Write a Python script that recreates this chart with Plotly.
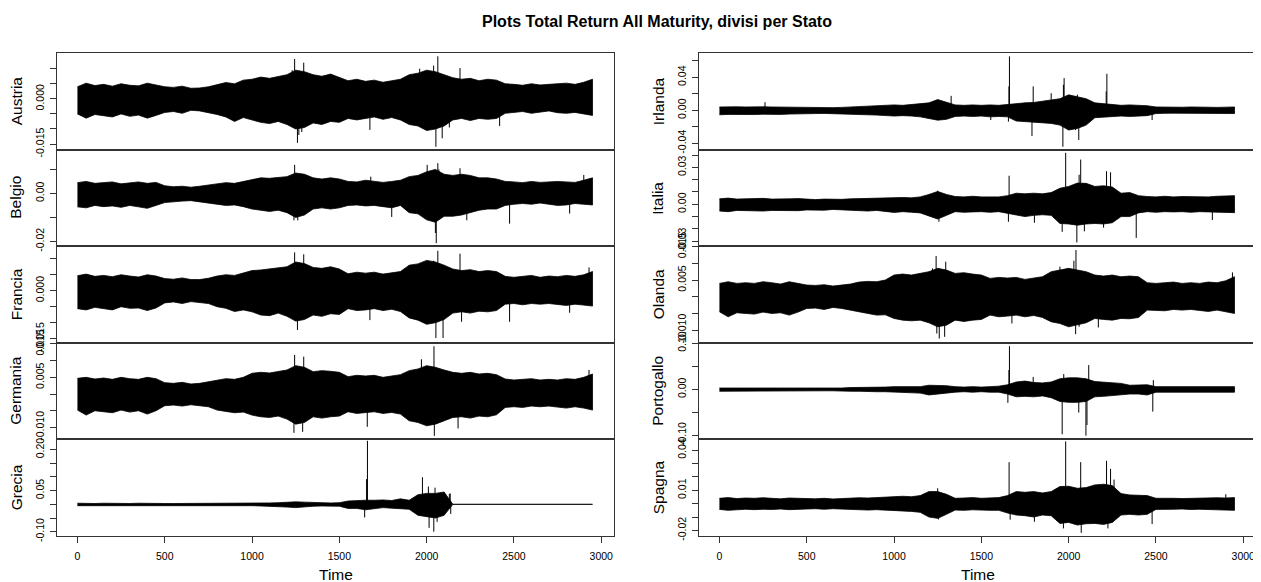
import plotly.graph_objects as go

# ---------------- data ----------------
TIME_GRID = list(range(0, 3000, 50))          # 0 .. 2950
TIME_TICKS = [0, 500, 1000, 1500, 2000, 2500, 3000]

# envelopes in units of 0.001 (Grecia, Portogallo in units of 0.01)
AUSTRIA_UP = [4.0,5.2,4.4,4.8,4.2,5.0,4.5,4.3,5.2,4.6, 4.0,3.8,4.2,3.5,3.6,4.0, 4.6,5.4,5.0,6.2,
              6.5,7.2,6.8,7.5,8.0, 9.5,9.0, 8.0,7.5,8.2,7.0, 6.0,6.5,5.8,6.2,5.5,6.0,6.5,
              8.0,8.5,9.5,9.0,8.0, 7.0,6.5,6.8,6.0,6.5,6.2, 5.0,4.8,4.5,5.0,4.6,4.8,5.0,5.2,4.8,5.5,6.5]
AUSTRIA_LO = [-5.0,-6.4,-5.2,-5.6,-6.0,-5.0,-5.8,-5.4,-6.4,-5.5, -4.5,-4.2,-4.8,-3.8,-4.0,-4.6, -5.2,-6.0,-7.5,-6.2,
              -7.0,-7.8,-8.2,-7.5,-8.5, -10.0,-9.5, -8.0,-8.5,-7.5,-7.8, -6.5,-7.0,-6.5,-6.0,-6.8,-6.2,-7.0,
              -8.5,-9.0,-10.5,-10.0,-9.0, -7.0,-6.5,-7.2,-6.5,-6.8,-6.5, -4.8,-4.5,-4.2,-4.8,-4.5,-4.0,-4.6,-4.8,-4.5,-5.0,-5.5]
AUSTRIA_SPIKES = [(1230,9.5),(1244,13.2),(1260,-14.6),(1268,-12.0),(1285,-11.0),(1296,12.0),(1675,-10.3),
                  (1960,10.0),(2040,11.0),(2053,-15.9),(2064,14.1),(2089,-13.1),(2130,-9.5),(2191,10.2),(2418,-9.0)]

BELGIO_UP = [4.5,5.0,4.2,4.6,4.8,4.0,4.5,4.8,4.2,4.6, 3.2,2.8,3.0,2.6,3.0,3.4, 4.0,4.5,4.2,5.0,
             6.0,6.5,6.3,6.8,7.0, 8.5,8.0, 6.5,6.0,6.5,6.0, 5.0,4.8,5.5,5.0,4.6,5.0,5.5,
             7.0,7.5,9.0,10.0,8.0, 7.5,8.0,7.5,6.5,6.5,6.0, 5.0,4.8,4.5,5.0,4.6,4.8,5.0,4.8,4.6,5.5,6.5]
BELGIO_LO = [-5.6,-6.0,-5.0,-5.5,-5.2,-5.8,-5.0,-5.6,-6.2,-5.0, -3.8,-3.5,-3.2,-3.0,-3.5,-3.8, -4.5,-5.0,-4.8,-5.5,
             -6.5,-7.0,-7.5,-7.0,-8.0, -10.0,-9.0, -6.5,-6.0,-6.5,-6.0, -5.0,-4.8,-5.2,-5.0,-5.5,-6.0,-5.0,
             -8.0,-8.5,-11.0,-12.0,-9.5, -9.5,-9.0,-8.0,-7.0,-6.5,-6.5, -5.0,-4.5,-4.2,-4.5,-4.0,-4.5,-5.0,-4.8,-4.2,-4.5,-4.8]
BELGIO_SPIKES = [(1240,-11.2),(1244,11.9),(1262,-11.2),(1680,7.0),(1800,-9.8),(2003,11.9),(2050,-16.5),
                 (2055,-20.7),(2064,12.6),(2070,10.0),(2191,10.5),(2230,-11.2),(2475,-12.6),(2819,-8.4),(2900,7.7)]

FRANCIA_UP = [4.7,5.2,4.5,4.8,4.4,5.0,4.6,4.3,5.0,4.6, 3.8,3.6,4.0,3.5,3.5,3.9, 4.6,5.0,4.8,5.5,
              6.3,6.5,6.8,7.0,7.5, 9.0,8.5, 7.3,7.0,7.5,6.8, 5.3,5.8,5.5,5.8,5.2,5.6,6.0,
              8.0,8.4,9.5,9.0,8.0, 6.8,6.3,6.6,6.0,6.3,6.0, 4.5,4.2,4.4,4.8,4.2,4.6,4.4,4.8,4.5,5.0,6.0]
FRANCIA_LO = [-5.6,-6.0,-5.2,-5.6,-6.0,-5.0,-5.5,-5.4,-6.2,-5.4, -3.8,-3.5,-4.0,-3.4,-3.6,-4.0, -5.0,-5.5,-6.5,-6.0,
              -6.6,-7.6,-7.8,-7.0,-8.0, -9.5,-9.0, -7.6,-8.0,-7.2,-7.4, -5.6,-6.2,-6.0,-5.6,-6.2,-5.8,-6.5,
              -8.5,-9.2,-10.5,-10.0,-9.0, -7.0,-6.6,-7.0,-6.4,-6.6,-6.2, -4.2,-4.0,-4.4,-4.0,-4.2,-4.0,-4.4,-4.6,-4.2,-4.5,-4.8]
FRANCIA_SPIKES = [(1244,12.0),(1260,-12.3),(1285,-9.2),(1296,11.4),(1675,-9.2),(2040,9.4),(2053,-14.8),
                  (2064,12.5),(2094,-14.8),(2191,11.6),(2200,-9.7),(2475,-9.7),(2819,-6.9),(2930,7.3)]

GERMANIA_UP = [4.7,5.0,4.5,4.8,4.4,5.0,4.6,4.4,5.0,4.6, 3.4,3.2,3.5,3.0,3.2,3.6, 4.2,4.6,4.4,5.0,
               6.2,6.5,6.3,6.8,7.2, 8.5,8.0, 6.7,7.0,6.8,6.5, 5.2,5.6,5.4,5.6,5.0,5.4,5.8,
               7.0,7.5,8.5,8.0,7.2, 6.5,6.2,6.5,6.0,6.2,5.8, 4.5,4.2,4.4,4.6,4.2,4.4,4.2,4.6,4.4,5.0,6.0]
GERMANIA_LO = [-4.8,-6.3,-5.0,-5.2,-5.6,-4.8,-5.4,-5.0,-6.0,-5.0, -3.5,-3.3,-3.6,-3.2,-3.4,-3.8, -4.8,-5.2,-5.6,-5.4,
               -6.3,-6.8,-7.0,-6.6,-7.5, -9.0,-8.5, -6.8,-7.2,-6.8,-6.6, -5.3,-5.8,-5.6,-5.3,-5.8,-5.5,-6.0,
               -8.0,-8.5,-9.5,-9.0,-8.0, -7.0,-6.8,-7.2,-6.6,-6.8,-6.2, -4.0,-3.8,-4.0,-3.6,-3.8,-3.6,-4.0,-4.2,-3.8,-4.2,-4.8]
GERMANIA_SPIKES = [(1240,-11.6),(1244,11.7),(1290,-11.3),(1296,11.2),(1660,-9.8),(1970,10.4),(2030,-8.8),
                   (2042,14.3),(2044,-12.5),(2180,-10.3),(2930,7.2)]

GRECIA_UP = [0.4,0.3,0.3,0.4,0.3,0.3,0.3,0.4,0.3,0.3,0.3,0.3,0.3,0.3,0.3,0.4,0.4,0.4,0.4,0.5,0.5,0.5,0.5,
             0.6,0.8,0.9,0.8,0.6,0.6,0.5,0.6, 1.2,1.4,1.5, 1.5,1.6,1.4,2.0,1.5, 3.5,4.0,4.0,4.5,
             0,0,0,0,0,0,0,0,0,0,0,0,0,0,0,0,0]
GRECIA_LO = [-0.5,-0.3,-0.3,-0.4,-0.3,-0.4,-0.3,-0.4,-0.3,-0.4,-0.3,-0.3,-0.3,-0.3,-0.3,-0.4,-0.4,-0.4,-0.5,-0.5,-0.5,-0.6,-0.6,
             -0.8,-1.0,-1.2,-0.9,-0.7,-0.6,-0.6,-0.7, -1.5,-1.5,-2.0, -1.5,-1.2,-1.4,-1.5,-1.8, -4.0,-4.5,-5.0,-4.0,
             0,0,0,0,0,0,0,0,0,0,0,0,0,0,0,0,0]
GRECIA_SPIKES = [(1645,-4.8),(1656,9.2),(1661,23.2),(1976,9.9),(2010,6.5),(2014,-8.6),(2041,-10.0),
                 (2048,6.1),(2060,-6.4),(2130,3.8),(2135,4.0),(2138,-3.5)]

IRLANDA_UP = [4.0,4.5,4.2,4.0,4.5,4.2,4.0,3.8,4.2,4.0,3.5,3.8,3.5,3.2,3.5,4.0,4.2,4.5,5.0,5.2,
              6.5,6.0,7.0,7.5,9.0, 13.0,10.0, 6.5,6.0,6.5,6.0,6.5,6.0,7.0, 8.5,9.0,9.5, 11.0,12.6,14.0,
              18.7,16.0,14.0, 9.0,8.0, 6.5,6.0,6.5,6.0,5.5, 4.0,3.7,3.5,3.7,4.0,3.5,3.7,3.5,3.7,4.0]
IRLANDA_LO = [-5.5,-5.0,-4.8,-5.0,-5.2,-4.8,-4.5,-5.0,-4.6,-4.2,-4.0,-4.0,-3.8,-3.6,-4.0,-4.5,-5.0,-5.5,-5.8,-6.0,
              -7.0,-6.5,-7.0,-8.0,-10.0, -12.0,-11.0, -7.5,-7.0,-7.5,-7.0,-8.0,-7.5,-8.0, -13.0,-13.8,-15.0,
              -15.0,-15.9,-18.0, -24.0,-22.0,-18.0, -9.0,-8.0, -7.7,-7.0,-7.5,-7.0,-6.5,
              -4.0,-3.7,-3.5,-3.7,-3.5,-3.7,-3.5,-3.7,-3.8,-4.0]
IRLANDA_SPIKES = [(261,9.8),(1327,17.5),(1554,-11.8),(1655,-13.8),(1658,29.0),(1661,65.4),(1790,-31.3),
                  (1797,29.0),(1900,20.7),(1967,-44.3),(1970,31.0),(1974,39.0),(2040,-24.0),(2050,19.0),
                  (2058,-36.0),(2215,23.0),(2219,44.3),(2478,-11.8)]

ITALIA_UP = [4.4,5.0,4.2,4.6,4.4,4.8,4.2,4.0,4.4,4.6,4.0,3.8,4.2,3.8,4.0,4.4,4.6,4.4,4.8,5.0,
             5.0,5.5,5.2,6.0,8.0, 10.4,8.0, 6.3,6.0,6.5,6.0,6.3,6.0,7.0, 9.0,8.5,9.0,8.5,9.5,
             13.0,14.5, 17.2,17.0, 14.5,15.0,14.0, 9.0,9.5, 7.0,6.3,6.0,6.5,6.0,6.3,6.0,6.3,6.0,6.5,6.8,7.0]
ITALIA_LO = [-5.5,-6.0,-5.0,-5.5,-5.2,-5.5,-5.0,-5.4,-5.0,-5.2,-4.6,-4.4,-4.8,-4.2,-4.5,-5.0,-5.2,-5.5,-5.0,-5.6,
             -6.6,-6.0,-6.5,-7.0,-9.5, -12.0,-9.0, -6.0,-6.5,-6.2,-6.0,-6.5,-6.0,-7.5, -8.7,-10.0,-9.0,-8.5,-9.0,
             -15.6,-16.0, -17.0,-16.0, -15.6,-16.0,-15.0, -10.0,-10.0,
             -7.0,-6.0,-6.5,-6.0,-6.2,-6.0,-6.5,-6.0,-6.3,-6.0,-6.5,-6.8]
ITALIA_SPIKES = [(1250,11.0),(1257,-14.2),(1655,-14.2),(1659,23.2),(1804,-15.0),(1963,-22.4),(1983,41.8),
                 (2047,-31.0),(2060,24.0),(2069,36.3),(2090,-22.0),(2200,-19.0),(2217,26.8),(2240,26.0),
                 (2387,-27.3),(2823,-12.8)]

OLANDA_UP = [4.0,4.5,4.0,4.2,4.0,4.5,4.2,3.8,4.5,4.0, 3.5,3.4,3.6,3.2,3.4,3.8, 4.4,4.6,4.5,5.0,
             6.5,6.8,6.5,7.0,7.5, 8.5,8.0, 7.0,7.2,6.8,6.5, 5.5,5.8,5.6,5.8,5.2,5.6,6.0,
             7.5,8.0,8.5,8.0,7.5, 6.5,6.2,6.5,6.0,6.2,6.0, 4.2,4.0,4.2,4.4,4.0,4.2,4.0,4.4,4.2,4.8,6.0]
OLANDA_LO = [-4.5,-6.0,-4.8,-5.0,-5.2,-4.6,-5.0,-4.8,-5.5,-4.6, -3.5,-3.4,-3.8,-3.2,-3.5,-3.8, -4.5,-5.0,-5.5,-5.4,
             -6.5,-7.0,-7.2,-7.0,-7.8, -9.0,-8.5, -7.0,-7.4,-7.0,-6.8, -5.5,-6.0,-5.8,-5.5,-6.0,-5.6,-6.2,
             -7.5,-8.0,-9.0,-8.5,-7.8, -6.5,-6.8,-7.0,-6.5,-6.6,-6.2, -4.0,-4.0,-4.2,-3.8,-4.0,-3.8,-4.2,-4.4,-4.0,-4.5,-5.0]
OLANDA_SPIKES = [(1220,8.5),(1241,12.2),(1245,-11.0),(1259,-12.5),(1290,-12.0),(1296,10.5),(1675,-8.0),
                 (1950,9.0),(2030,10.8),(2040,-11.2),(2042,14.0),(2060,-9.0),(2170,-9.2),(2938,7.3)]

PORTOGALLO_UP = [0.3,0.3,0.3,0.2,0.3,0.3,0.2,0.3,0.3,0.2,0.3,0.3,0.3,0.3,0.3,0.4,0.4,0.4,0.4,0.5,
                 0.6,0.6,0.5,0.6,0.9, 0.9,0.8, 0.6,0.5,0.6,0.5,0.6,0.7, 1.0, 1.6,1.8,1.5,1.4,1.6,
                 2.3,2.5,2.5,2.3, 1.7,1.6,1.5,1.3, 0.9,0.9,1.0, 0.6,0.6,0.5,0.6,0.5,0.6,0.5,0.6,0.6,0.6]
PORTOGALLO_LO = [-0.4,-0.3,-0.3,-0.3,-0.3,-0.3,-0.3,-0.3,-0.3,-0.3,-0.3,-0.3,-0.3,-0.3,-0.3,-0.4,-0.4,-0.4,-0.5,-0.5,
                 -0.6,-0.6,-0.7,-0.8,-1.2, -1.0,-0.8, -0.6,-0.5,-0.6,-0.5,-0.6,-0.6, -1.0, -1.6,-1.5,-1.6,-1.4,-1.8,
                 -2.6,-2.8,-2.8,-2.6, -1.6,-1.5,-1.4,-1.2, -1.0,-1.0,-1.2, -0.6,-0.6,-0.5,-0.6,-0.5,-0.6,-0.5,-0.6,-0.6,-0.6]
PORTOGALLO_SPIKES = [(1652,-2.9),(1658,4.2),(1661,9.35),(1797,2.7),(1963,-9.7),(1972,3.3),(2058,-5.0),
                     (2099,-10.0),(2105,-7.7),(2115,5.25),(2482,-4.8),(2485,2.0)]

SPAGNA_UP = [4.0,4.5,3.8,4.2,4.0,4.4,4.0,3.6,4.2,4.0,3.8,3.6,4.0,3.5,3.8,4.2,4.4,4.2,4.5,5.0,
             5.3,5.5,5.2,6.0,9.0, 9.0,7.0, 4.0,4.2,4.5,4.0,4.2,4.5,6.0, 9.0,8.5,9.0,8.0,9.0,
             12.8,13.0, 11.5,12.0, 14.0,14.5,13.5, 7.5,6.5,6.5,6.0, 4.0,4.2,4.0,3.8,4.0,4.2,4.0,4.4,4.2,4.5]
SPAGNA_LO = [-4.3,-5.0,-4.5,-4.2,-4.5,-4.2,-4.4,-4.0,-4.5,-4.2,-4.0,-3.8,-4.2,-3.8,-4.0,-4.4,-4.5,-4.8,-4.5,-5.0,
             -5.3,-5.5,-5.8,-6.5,-10.0, -11.0,-8.0, -4.8,-5.0,-4.6,-4.8,-5.0,-5.0,-7.0, -8.5,-9.0,-10.0,-8.5,-9.0,
             -14.8,-14.0, -16.0,-15.0, -14.8,-15.5,-14.0, -8.5,-8.0,-8.5,-8.0,
             -4.3,-4.5,-4.2,-4.0,-4.4,-4.2,-4.5,-4.4,-4.8,-5.0]
SPAGNA_SPIKES = [(1250,11.5),(1255,-11.8),(1659,31.0),(1665,-12.0),(1804,-13.5),(1970,-18.5),(1983,46.5),
                 (2069,31.0),(2072,-21.8),(2217,32.0),(2225,-18.5),(2240,26.0),(2260,18.0),(2478,-15.3),(2900,7.0)]

# y axis: tick values, labels shown, visible range
PANELS = [
    # name, up, lo, spikes, unit, col, row, ticks, labels, yrange
    ("Austria", AUSTRIA_UP, AUSTRIA_LO, AUSTRIA_SPIKES, 1e-3, 0, 0,
     [-0.015,-0.010,-0.005,0.0,0.005,0.010], ["-0.015","","","0.000","",""], [-0.0168, 0.0152]),
    ("Belgio", BELGIO_UP, BELGIO_LO, BELGIO_SPIKES, 1e-3, 0, 1,
     [-0.02,-0.01,0.0,0.01], ["-0.02","","0.00",""], [-0.0219, 0.0183]),
    ("Francia", FRANCIA_UP, FRANCIA_LO, FRANCIA_SPIKES, 1e-3, 0, 2,
     [-0.015,-0.010,-0.005,0.0,0.005,0.010], ["-0.015","","","0.000","",""], [-0.0162, 0.0140]),
    ("Germania", GERMANIA_UP, GERMANIA_LO, GERMANIA_SPIKES, 1e-3, 0, 3,
     [-0.010,-0.005,0.0,0.005,0.010,0.015], ["-0.010","","","0.005","","0.015"], [-0.01345, 0.01542]),
    ("Grecia", GRECIA_UP, GRECIA_LO, GRECIA_SPIKES, 1e-2, 0, 4,
     [-0.10,-0.05,0.0,0.05,0.10,0.15,0.20], ["-0.10","","","0.05","","","0.20"], [-0.1139, 0.2387]),
    ("Irlanda", IRLANDA_UP, IRLANDA_LO, IRLANDA_SPIKES, 1e-3, 1, 0,
     [-0.04,-0.02,0.0,0.02,0.04,0.06], ["-0.04","","0.00","","0.04",""], [-0.0476, 0.0695]),
    ("Italia", ITALIA_UP, ITALIA_LO, ITALIA_SPIKES, 1e-3, 1, 1,
     [-0.03,-0.02,-0.01,0.0,0.01,0.02,0.03,0.04], ["-0.03","","","0.00","","","0.03",""], [-0.0339, 0.0445]),
    ("Olanda", OLANDA_UP, OLANDA_LO, OLANDA_SPIKES, 1e-3, 1, 2,
     [-0.010,-0.005,0.0,0.005,0.010,0.015], ["-0.010","","","0.005","","0.015"], [-0.0137, 0.0152]),
    ("Portogallo", PORTOGALLO_UP, PORTOGALLO_LO, PORTOGALLO_SPIKES, 1e-2, 1, 3,
     [-0.10,-0.05,0.0,0.05,0.10], ["-0.10","","0.00","","0.10"], [-0.1072, 0.1014]),
    ("Spagna", SPAGNA_UP, SPAGNA_LO, SPAGNA_SPIKES, 1e-3, 1, 4,
     [-0.02,-0.01,0.0,0.01,0.02,0.03,0.04], ["-0.02","","","0.01","","","0.04"], [-0.0238, 0.0483]),
]

TITLE = "Plots Total Return All Maturity, divisi per Stato"

# ---------------- layout geometry (window pixels) ----------------
# the page body has an 8px margin, so the figure is drawn 8px in from the window corner
OFF = 8
W, H = 1261 - OFF, 582 - OFF
COL_X = [(57, 614), (699, 1256)]
TOP, ROW_H = 53.0, 96.5
X_RANGE = [-117, 3073]
FONT = "Liberation Sans, Arial, sans-serif"
FRAME = "#333333"


def px(x):
    return (x - OFF) / W


def py(y):
    return 1 - (y - OFF) / H


fig = go.Figure()
layout = dict(template="none", width=W, height=H, autosize=False,
              margin=dict(l=0, r=0, t=0, b=0, pad=0),
              paper_bgcolor="white", plot_bgcolor="white", showlegend=False,
              font=dict(family=FONT, color="black"))
annotations = []

for k, (name, up, lo, spikes, unit, col, row, tvals, ttext, yr) in enumerate(PANELS, start=1):
    xa = "x" if k == 1 else f"x{k}"
    ya = "y" if k == 1 else f"y{k}"
    u = [v * unit for v in up]
    l = [v * unit for v in lo]
    # filled band between upper and lower envelope
    fig.add_trace(go.Scatter(
        x=TIME_GRID + TIME_GRID[::-1], y=u + l[::-1], mode="lines",
        fill="toself", fillcolor="black", line=dict(color="black", width=0.8),
        xaxis=xa, yaxis=ya, hoverinfo="skip"))
    # isolated spikes
    sx, sy = [], []
    for t, v in spikes:
        sx += [t, t, None]
        sy += [0.0, v * unit, None]
    fig.add_trace(go.Scatter(x=sx, y=sy, mode="lines", line=dict(color="black", width=1),
                             xaxis=xa, yaxis=ya, hoverinfo="skip"))

    x0, x1 = COL_X[col]
    y_top = TOP + ROW_H * row
    y_bot = y_top + ROW_H
    bottom = row == 4
    layout[("xaxis" if k == 1 else f"xaxis{k}")] = dict(
        domain=[px(x0), px(x1)], range=X_RANGE, anchor=ya, automargin=False,
        showgrid=False, zeroline=False, showline=True, mirror=True,
        linecolor=FRAME, linewidth=1,
        ticks="outside" if bottom else "", ticklen=6, tickcolor=FRAME, tickwidth=1,
        tickvals=TIME_TICKS, showticklabels=bottom, ticklabelstandoff=5,
        tickfont=dict(size=10.5, family=FONT, color="black"))
    layout[("yaxis" if k == 1 else f"yaxis{k}")] = dict(
        domain=[py(y_bot), py(y_top)], range=yr, anchor=xa, automargin=False,
        showgrid=False, zeroline=False, showline=True, mirror=True,
        linecolor=FRAME, linewidth=1,
        ticks="outside", ticklen=6, tickcolor=FRAME, tickwidth=1,
        tickvals=tvals, ticktext=ttext, tickangle=-90, ticklabelstandoff=2,
        tickfont=dict(size=10.5, family=FONT, color="black"))
    annotations.append(dict(text=name, xref="paper", yref="paper",
                            x=px(x0 - 41), y=py(y_top + ROW_H / 2),
                            textangle=-90, showarrow=False, xanchor="center", yanchor="middle",
                            font=dict(size=15.5, family=FONT, color="black")))

for x0, x1 in COL_X:
    annotations.append(dict(text="Time", xref="paper", yref="paper",
                            x=px((x0 + x1) / 2), y=py(574), showarrow=False,
                            xanchor="center", yanchor="middle",
                            font=dict(size=15.5, family=FONT, color="black")))

annotations.append(dict(text="<b>" + TITLE + "</b>", xref="paper", yref="paper",
                        x=px((COL_X[0][0] + COL_X[1][1]) / 2), y=py(21), showarrow=False,
                        xanchor="center", yanchor="middle",
                        font=dict(size=16, family=FONT, color="black")))

layout["annotations"] = annotations
fig.update_layout(**layout)
fig.write_html("out.html", config={"responsive": False, "displayModeBar": False})
